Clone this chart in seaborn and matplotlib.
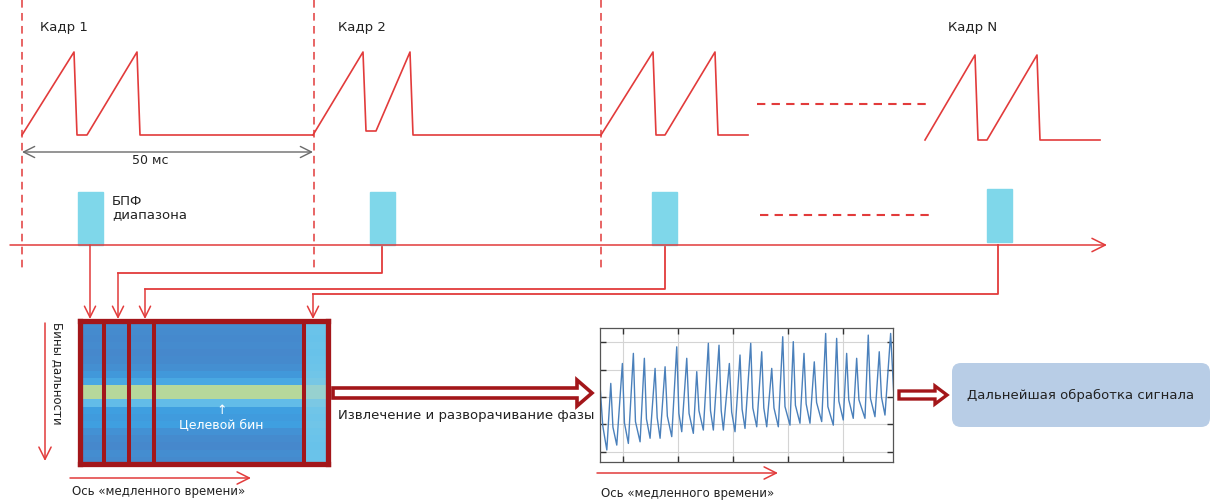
import numpy as np
import matplotlib
matplotlib.use("Agg")
import matplotlib.pyplot as plt
import seaborn as sns
from matplotlib.patches import Rectangle, Polygon, FancyBboxPatch
from matplotlib.colors import LinearSegmentedColormap

# ---------------------------------------------------------------
# Diagram data (pixel space of a 1211 x 500 canvas, y grows down)
# ---------------------------------------------------------------
frame_labels = ["Кадр 1", "Кадр 2", "Кадр N"]
frame_label_x = [40, 338, 948]

# two-chirp frames: vertices of each sawtooth
frame_xs = [
    [22, 74, 77, 87, 137, 140, 313],
    [313, 363, 366, 376, 410, 413, 601],
    [601, 653, 656, 665, 715, 718, 748],
    [925, 975, 978, 987, 1037, 1040, 1100],
]
frame_ys = [
    [135, 52, 135, 135, 52, 135, 135],
    [135, 52, 131, 131, 52, 135, 135],
    [135, 52, 135, 135, 52, 135, 135],
    [140, 55, 140, 140, 55, 140, 140],
]
frame_bounds = [22, 314, 601]

# range-FFT blocks: left x, top y
fft_x = [78, 370, 652, 987]
fft_top = [192, 192, 192, 189]
fft_bottom = [245, 245, 245, 242]

# connectors from FFT blocks into the matrix
conn_src_x = [90, 382, 665, 998]
conn_turn_y = [None, 273, 289, 294]
conn_dst_x = [90, 118, 145, 313]

# range profile per range bin (top -> bottom), normalised magnitude
range_profile = [0.10, 0.08, 0.06, 0.08, 0.05, 0.07, 0.12, 0.22, 0.36, 1.00,
                 1.00, 0.50, 0.30, 0.26, 0.30, 0.15, 0.08, 0.05, 0.10, 0.07]
last_profile = [0.55, 0.55, 0.54, 0.55, 0.54, 0.55, 0.56, 0.58, 0.62, 0.80,
                0.80, 0.64, 0.58, 0.57, 0.58, 0.56, 0.55, 0.54, 0.55, 0.55]
n_slow_cols = 9
divider_cols = [1, 2, 3, 9]

# extracted phase signal (slow time, rad)
peak_t = [-2.24, -0.13, 1.87, 3.87, 5.82, 7.64, 9.76, 11.58, 13.4, 15.51,
          17.45, 19.33, 21.27, 23.22, 25.22, 27.04, 29.04, 30.96, 32.91, 34.78,
          36.85, 38.85, 40.67, 42.49, 44.6, 46.6, 48.67]
peak_v = [0.50, 1.23, 1.60, 1.42, 1.05, 1.11, 1.84, 1.42, 0.93, 1.97,
          1.90, 1.23, 1.54, 1.97, 1.66, 1.05, 2.21, 2.03, 1.60, 1.29,
          2.33, 2.15, 1.60, 1.42, 2.27, 1.66, 2.33]
shoulder_t = [-1.85, 0.25, 2.25, 4.25, 6.2, 8.05, 10.15, 12.0, 13.8, 15.9,
              17.85, 19.75, 21.65, 23.6, 25.6, 27.45, 29.45, 31.35, 33.3, 35.2,
              37.25, 39.25, 41.05, 42.9, 45.0, 47.0]
shoulder_v = [-1.1, -0.95, -0.9, -0.8, -0.75, -0.7, -0.6, -0.6, -0.5, -0.5,
              -0.5, -0.55, -0.45, -0.4, -0.4, -0.4, -0.35, -0.3, -0.25, -0.2,
              -0.35, -0.15, -0.1, -0.1, -0.05, 0.0]
trough_t = [-2.96, -1.15, 0.96, 3.09, 4.91, 6.73, 8.85, 10.67, 12.78, 14.6,
            16.42, 18.24, 20.36, 22.18, 24.31, 26.13, 28.24, 30.36, 32.18, 34.0,
            36.13, 38.24, 40.05, 41.87, 44.0, 45.82, 47.64]
trough_v = [-1.94, -1.76, -1.70, -1.64, -1.51, -1.51, -1.45, -1.27, -1.33, -1.21,
            -1.21, -1.21, -1.27, -1.15, -1.09, -1.09, -1.09, -1.03, -0.96, -0.96,
            -0.90, -1.03, -0.84, -0.78, -0.78, -0.72, -0.66]
sig_start = [(-4.2, 0.44), (-3.7, -1.05)]
sig_end = (49.3, -0.10)
sig_ticks_x = [0, 10, 20, 30, 40]
sig_ticks_y = [-2, -1, 0, 1, 2]

RED = "#e23b3b"
DARKRED = "#a3161a"
CYAN = "#7fd7ea"
TXT = "#222222"

W, H = 1211, 500
fig = plt.figure(figsize=(W / 100, H / 100), dpi=100)
ax = fig.add_axes([0, 0, 1, 1])


def px_axes(x0, y0, x1, y1):
    return fig.add_axes([x0 / W, 1 - y1 / H, (x1 - x0) / W, (y1 - y0) / H])


def arrow(x0, y0, x1, y1, color=RED, lw=1.1, ms=22):
    ax.annotate("", xy=(x1, y1), xytext=(x0, y0),
                arrowprops=dict(arrowstyle="->", color=color, lw=lw,
                                mutation_scale=ms, shrinkA=0, shrinkB=0))


# ---- top: frames ----
for xb in frame_bounds:
    ax.plot([xb, xb], [0, 270], color=RED, lw=1.1, ls=(0, (5, 3.5)))

for fx, fy in zip(frame_xs, frame_ys):
    sns.lineplot(x=fx, y=fy, ax=ax, sort=False, estimator=None,
                 color=RED, lw=1.2)

for lab, lx in zip(frame_labels, frame_label_x):
    ax.text(lx, 28, lab, fontsize=9.5, color=TXT, va="center", ha="left")

ax.plot([757, 930], [104, 104], color=RED, lw=1.5, ls=(0, (4, 3)))
ax.plot([760, 935], [215, 215], color=RED, lw=1.5, ls=(0, (4, 3)))

# 50 ms span
ax.annotate("", xy=(22, 152), xytext=(313, 152),
            arrowprops=dict(arrowstyle="<->", color="#6a6a6a", lw=1.0,
                            mutation_scale=20, shrinkA=0, shrinkB=0))
ax.text(150, 161, "50 мс", fontsize=9, color=TXT, ha="center", va="center")

# ---- range FFT row ----
for x0, t, b in zip(fft_x, fft_top, fft_bottom):
    ax.add_patch(Rectangle((x0, t), 25, b - t, color=CYAN, zorder=3))
ax.text(112, 208, "БПФ\nдиапазона", fontsize=9.5, color=TXT,
        ha="left", va="center", linespacing=0.95)
arrow(10, 245, 1107, 245, ms=24)

# connectors
for sx, ty, dx in zip(conn_src_x, conn_turn_y, conn_dst_x):
    if ty is None:
        arrow(sx, 245, dx, 319, ms=20)
    else:
        ax.plot([sx, sx, dx], [245, ty, ty], color=RED, lw=1.3)
        arrow(dx, ty, dx, 319, ms=20)

# axes labels around the matrix
arrow(45, 323, 45, 461, ms=22)
ax.text(57, 373, "Бины дальности", rotation=-90, fontsize=8.5, color=TXT,
        ha="center", va="center")
arrow(70, 478, 251, 478, ms=22)
ax.text(72, 492, "Ось «медленного времени»", fontsize=8.5, color=TXT,
        ha="left", va="center")

# phase extraction arrow
big = [(333, 388), (577, 388), (577, 380), (592, 393), (577, 406), (577, 398),
       (333, 398)]
ax.add_patch(Polygon(big, closed=True, facecolor="white", edgecolor=DARKRED,
                     lw=2.6, joinstyle="miter"))
ax.text(338, 416, "Извлечение и разворачивание фазы", fontsize=9.5,
        color=TXT, ha="left", va="center")

arrow(597, 473, 778, 473, ms=22)
ax.text(601, 493, "Ось «медленного времени»", fontsize=8.5, color=TXT,
        ha="left", va="center")

small = [(899, 391), (935, 391), (935, 386), (947, 395), (935, 404), (935, 399),
         (899, 399)]
ax.add_patch(Polygon(small, closed=True, facecolor="white", edgecolor=DARKRED,
                     lw=2.4, joinstyle="miter"))

ax.add_patch(FancyBboxPatch((952, 363), 258, 64,
                            boxstyle="round,pad=0,rounding_size=9",
                            facecolor="#b8cde6", edgecolor="none"))
ax.text(1081, 395, "Дальнейшая обработка сигнала", fontsize=9.5, color=TXT,
        ha="center", va="center")

ax.set_xlim(0, W)
ax.set_ylim(H, 0)
ax.axis("off")

# ---- range / slow-time matrix ----
cmap = LinearSegmentedColormap.from_list(
    "rb", [(0.0, "#4784c8"), (0.3, "#3f9fe0"), (0.55, "#6ac3ea"),
           (0.75, "#8fcfdc"), (1.0, "#b6d89b")])
matrix = np.column_stack([range_profile] * n_slow_cols + [last_profile])
axm = px_axes(79.5, 320.5, 328.5, 464)
sns.heatmap(matrix, ax=axm, cmap=cmap, vmin=0, vmax=1, cbar=False,
            xticklabels=False, yticklabels=False)
for s in axm.spines.values():
    s.set_visible(True)
    s.set_color(DARKRED)
    s.set_linewidth(3.8)
for c in divider_cols:
    axm.axvline(c, color=DARKRED, lw=2.9)
axm.text(5.7, 12.6, "↑", color="white", fontsize=9, ha="center", va="center")
axm.text(5.7, 14.6, "Целевой бин", color="white", fontsize=9,
         ha="center", va="center")

# ---- phase signal ----
sig_t = [p[0] for p in sig_start]
sig_v = [p[1] for p in sig_start]
for i in range(len(peak_t)):
    sig_t += [trough_t[i], peak_t[i]]
    sig_v += [trough_v[i], peak_v[i]]
    if i < len(shoulder_t):
        sig_t.append(shoulder_t[i])
        sig_v.append(shoulder_v[i])
sig_t.append(sig_end[0])
sig_v.append(sig_end[1])

axs = px_axes(600, 328, 893, 462)
sns.lineplot(x=sig_t, y=sig_v, ax=axs, sort=False, estimator=None,
             color="#4a80bb", lw=1.0)
axs.set_xlim(-4.2, 49.1)
axs.set_ylim(-2.38, 2.53)
axs.set_xticks(sig_ticks_x)
axs.set_yticks(sig_ticks_y)
axs.set_xticklabels([])
axs.set_yticklabels([])
axs.set_xlabel("")
axs.set_ylabel("")
axs.grid(True, color="#d4d4d4", lw=0.8)
axs.tick_params(direction="in", length=4, width=1, top=True, right=True,
                color="#333333")
for s in axs.spines.values():
    s.set_color("#555555")
    s.set_linewidth(0.9)

fig.savefig("out.png", dpi=100)
